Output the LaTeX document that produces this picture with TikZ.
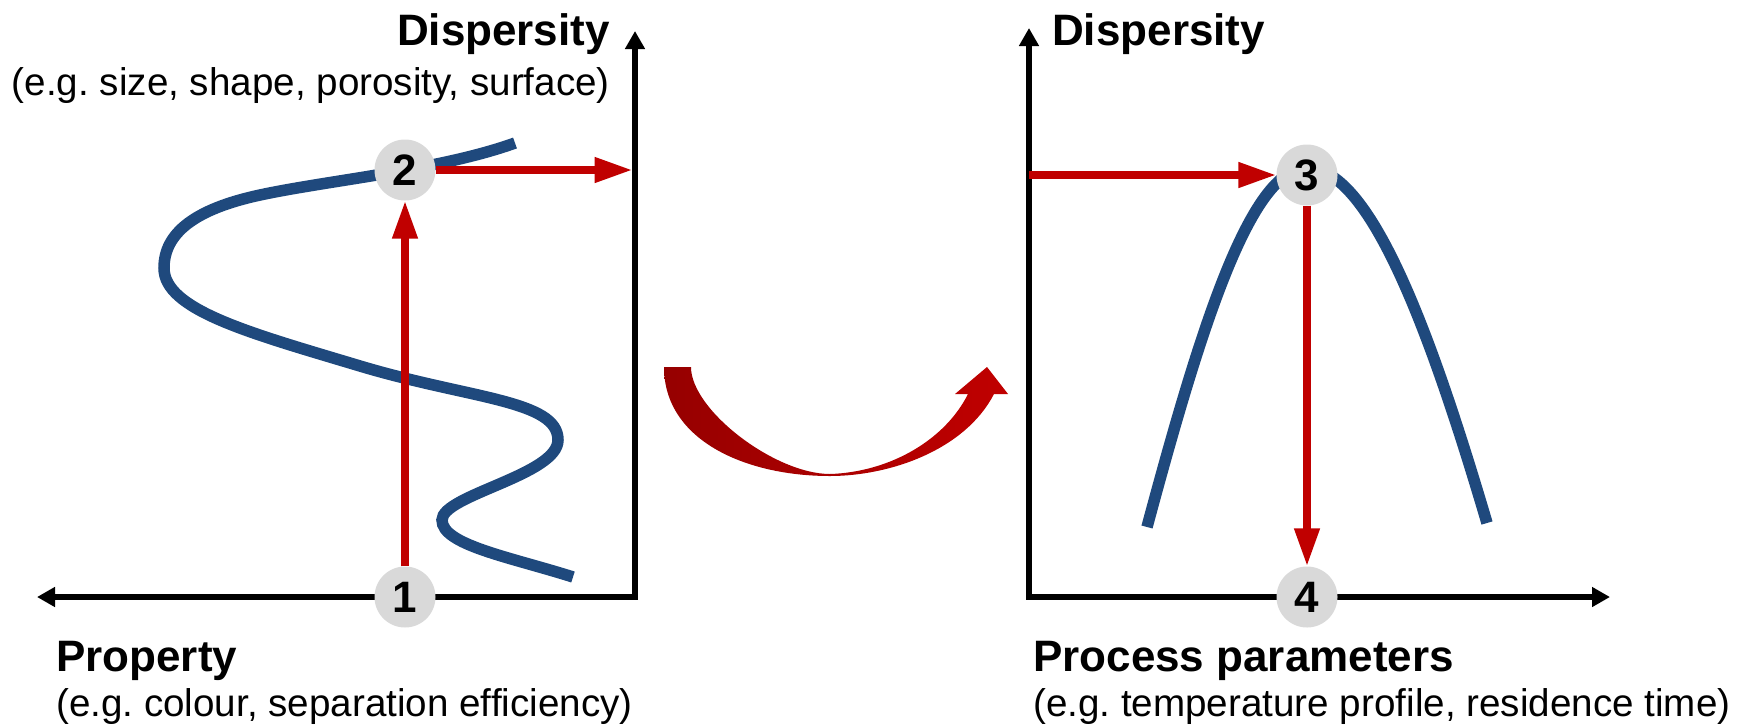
\documentclass[tikz,border=0pt]{standalone}
\usepackage{fontspec}
\setmainfont{Liberation Sans}
\usetikzlibrary{arrows.meta}
\definecolor{curveblue}{RGB}{31,73,125}
\definecolor{arrred}{RGB}{192,0,0}
\definecolor{darkarr}{RGB}{150,0,0}
\definecolor{circgray}{RGB}{217,217,217}
\frenchspacing
\begin{document}
\begin{tikzpicture}[x=1pt,y=-1pt,
  curve/.style={draw=curveblue, line width=11.5pt},
  axis/.style={draw=black, line width=5.5pt, line join=miter, {Triangle[length=18pt,width=19pt]}-{Triangle[length=18pt,width=19pt]}},
  redarrow/.style={draw=arrred, line width=7.5pt, -{Triangle[length=38pt,width=24pt]}},
  numcircle/.style={circle, fill=circgray, minimum size=61pt, inner sep=0pt, font=\fontsize{44}{44}\selectfont\bfseries},
  head/.style={inner sep=0pt, font=\fontsize{44}{50}\selectfont\bfseries},
  sub/.style={inner sep=0pt, font=\fontsize{38.6}{45}\selectfont}]
\useasboundingbox (0,0) rectangle (1746,724);

% blue curves
\draw[curve] (515,143) .. controls (440,170) and (330,180) .. (260,195)
  .. controls (195,209) and (164,233) .. (164,268)
  .. controls (164,310) and (250,333) .. (360,366)
  .. controls (470,399) and (558,400) .. (558,440)
  .. controls (558,475) and (442,495) .. (442,520)
  .. controls (442,545) and (510,557) .. (573,577);
\draw[curve] (1147,527) .. controls (1200,330) and (1250,168) .. (1307,168)
  .. controls (1370,168) and (1430,330) .. (1487,523);

% axes
\draw[axis] (37,597) -- (635,597) -- (635,31);
\draw[axis] (1029,28) -- (1029,597) -- (1610,597);

% curved transition arrow
\shade[left color=darkarr, right color=arrred]
  (664,367) .. controls (664,440) and (745,476) .. (830,476)
  .. controls (890,476) and (965,450) .. (994,394)
  -- (1008,394) -- (987,367) -- (955,394) -- (968,394)
  .. controls (945,440) and (890,472) .. (830,474)
  .. controls (775,474) and (691,410) .. (691,367) -- cycle;

% numbered circles
\node[numcircle] (c1) at (405,597) {1};
\node[numcircle] (c2) at (405,170) {2};
\node[numcircle] (c3) at (1307,175) {3};
\node[numcircle] (c4) at (1307,597) {4};
\coordinate (a2) at (632.5,170);
\coordinate (a3) at (1029,175);

% red arrows
\draw[redarrow] (c1) -- (c2);
\draw[redarrow] (c2) -- (a2);
\draw[redarrow] (a3) -- (c3);
\draw[redarrow] (c3) -- (c4);

% labels
\node[head, anchor=base east] (dl) at (610,45) {Dispersity};
\node[sub, anchor=base east] (dls) at (610,95) {(e.g. size, shape, porosity, surface)};
\node[head, anchor=base west] (pl) at (56,671) {Property};
\node[sub, anchor=base west] (pls) at (56,716) {(e.g. colour, separation efficiency)};
\node[head, anchor=base west] (dr) at (1052,45) {Dispersity};
\node[head, anchor=base west] (pr) at (1033,671) {Process parameters};
\node[sub, anchor=base west] (prs) at (1033,716) {(e.g. temperature profile, residence time)};
\end{tikzpicture}
\end{document}
